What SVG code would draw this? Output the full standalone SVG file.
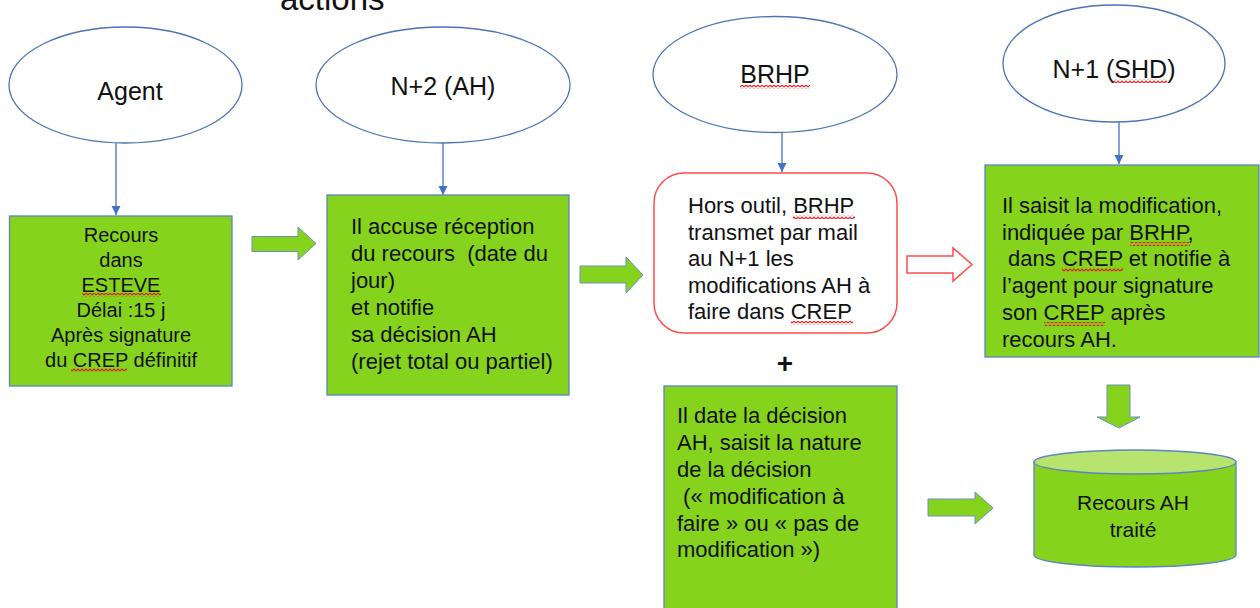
<svg xmlns="http://www.w3.org/2000/svg" width="1260" height="608" viewBox="0 0 1260 608">
<style>
text{font-family:"Liberation Sans",Arial,sans-serif;fill:#111;white-space:pre;}
.t{font-size:22px;}
.b{font-size:20px;}
.e{font-size:25px;}
.ell{fill:#fff;stroke:#4A74B4;stroke-width:1.3;}
.box{fill:#86D31E;stroke:#5B85C0;stroke-width:1.3;}
.blk{fill:#86D31E;stroke:#6C8FC4;stroke-width:1;}
.con{stroke:#4472C4;stroke-width:1.3;fill:none;}
.sq{fill:url(#wave);}
</style>
<defs>
<marker id="ah" markerUnits="userSpaceOnUse" markerWidth="10" markerHeight="10" refX="9" refY="5" orient="auto">
<path d="M0,0.5 L9,5 L0,9.5 Z" fill="#4472C4"/>
</marker>
<pattern id="wave" patternUnits="userSpaceOnUse" width="4" height="4">
<path d="M0,3 L2,1 L4,3" fill="none" stroke="#E81818" stroke-width="1.1"/>
</pattern>
</defs>

<text x="280" y="10" style="font-size:33px">actions</text>

<g id="connectors">
<line class="con" x1="116" y1="143" x2="116" y2="215" marker-end="url(#ah)"/>
<line class="con" x1="443" y1="143" x2="443" y2="195" marker-end="url(#ah)"/>
<line class="con" x1="782" y1="132" x2="782" y2="172" marker-end="url(#ah)"/>
<line class="con" x1="1119" y1="122" x2="1119" y2="164" marker-end="url(#ah)"/>
<polygon class="blk" points="252,236.5 298,236.5 298,227 316,243.5 298,260 298,251.5 252,251.5"/>
<polygon class="blk" points="580,266 626,266 626,257 643,275 626,293 626,283 580,283"/>
<polygon points="907,256 953,256 953,248 972,264.5 953,281 953,273 907,273" fill="#fff" stroke="#FF4B4B" stroke-width="1.5"/>
<polygon class="blk" points="928,499 975,499 975,492 993,508 975,524 975,516 928,516"/>
<polygon class="blk" points="1107,385 1130,385 1130,417 1140,417 1119,428 1097,417 1107,417"/>
</g>

<g id="agent">
<ellipse class="ell" cx="125.5" cy="85" rx="116.5" ry="58"/>
<text class="e" x="130" y="100" text-anchor="middle">Agent</text>
</g>

<g id="agent-box">
<rect class="box" x="9.5" y="216" width="222.5" height="170"/>
<g text-anchor="middle">
<text x="121" y="242" class="b">Recours</text>
<text x="121" y="267" class="b">dans</text>
<text x="121" y="292" class="b">ESTEVE</text>
<text x="121" y="317" class="b">Délai :15 j</text>
<text x="121" y="342" class="b">Après signature</text>
<text x="121" y="367" class="b">du CREP définitif</text>
</g>
<rect class="sq" x="82" y="293" width="79" height="4"/>
<rect class="sq" x="71" y="368" width="56" height="4"/>
</g>

<g id="n2">
<ellipse class="ell" cx="443" cy="85" rx="127" ry="58"/>
<text class="e" x="443" y="95" text-anchor="middle">N+2 (AH)</text>
</g>

<g id="n2-box">
<rect class="box" x="327" y="195" width="242" height="200"/>
<text class="t" x="351" y="234">Il accuse réception</text>
<text class="t" x="351" y="261">du recours  (date du</text>
<text class="t" x="351" y="288">jour)</text>
<text class="t" x="351" y="315">et notifie</text>
<text class="t" x="351" y="342">sa décision AH</text>
<text class="t" x="351" y="369">(rejet total ou partiel)</text>
</g>

<g id="brhp">
<ellipse class="ell" cx="775" cy="74.5" rx="122" ry="58"/>
<text class="e" x="775" y="83" text-anchor="middle">BRHP</text>
<rect class="sq" x="740" y="85" width="70" height="4"/>
</g>

<g id="brhp-box">
<rect x="654" y="173" width="243" height="160" rx="30" ry="30" fill="#fff" stroke="#FF4B4B" stroke-width="1.5"/>
<text class="t" x="688" y="213">Hors outil, BRHP</text>
<text class="t" x="688" y="240">transmet par mail</text>
<text class="t" x="688" y="266">au N+1 les</text>
<text class="t" x="688" y="293">modifications AH à</text>
<text class="t" x="688" y="319">faire dans CREP</text>
<rect class="sq" x="793" y="215" width="62" height="4"/>
<rect class="sq" x="791" y="321" width="62" height="4"/>
</g>

<text x="785" y="373" text-anchor="middle" style="font-size:28px;font-weight:bold">+</text>

<g id="date-box">
<rect class="box" x="664" y="386" width="233" height="240"/>
<text class="t" x="677" y="423">Il date la décision</text>
<text class="t" x="677" y="450">AH, saisit la nature</text>
<text class="t" x="677" y="477">de la décision</text>
<text class="t" x="677" y="504"> (« modification à</text>
<text class="t" x="677" y="531">faire » ou « pas de</text>
<text class="t" x="677" y="557">modification »)</text>
</g>

<g id="n1">
<ellipse class="ell" cx="1114" cy="63.5" rx="111" ry="58.5"/>
<text class="e" x="1114" y="78" text-anchor="middle">N+1 (SHD)</text>
<rect class="sq" x="1113" y="79" width="54" height="4"/>
</g>

<g id="n1-box">
<rect class="box" x="985" y="165" width="274" height="192"/>
<text class="t" x="1002" y="213">Il saisit la modification,</text>
<text class="t" x="1002" y="240">indiquée par BRHP,</text>
<text class="t" x="1002" y="266"> dans CREP et notifie à</text>
<text class="t" x="1002" y="293">l’agent pour signature</text>
<text class="t" x="1002" y="320">son CREP après</text>
<text class="t" x="1002" y="347">recours AH.</text>
<rect class="sq" x="1130" y="242" width="60" height="4"/>
<rect class="sq" x="1062" y="268" width="61" height="4"/>
<rect class="sq" x="1044" y="322" width="61" height="4"/>
</g>

<g id="result">
<path d="M1034,462 L1034,555 A101,12 0 0 0 1236,555 L1236,462 Z" fill="#86D31E" stroke="#5B85C0" stroke-width="1.3"/>
<ellipse cx="1135" cy="462" rx="101" ry="12" fill="#B6E46E" stroke="#5B85C0" stroke-width="1.3"/>
<text x="1133" y="510" text-anchor="middle" style="font-size:21px">Recours AH</text>
<text x="1133" y="537" text-anchor="middle" style="font-size:21px">traité</text>
</g>
</svg>
